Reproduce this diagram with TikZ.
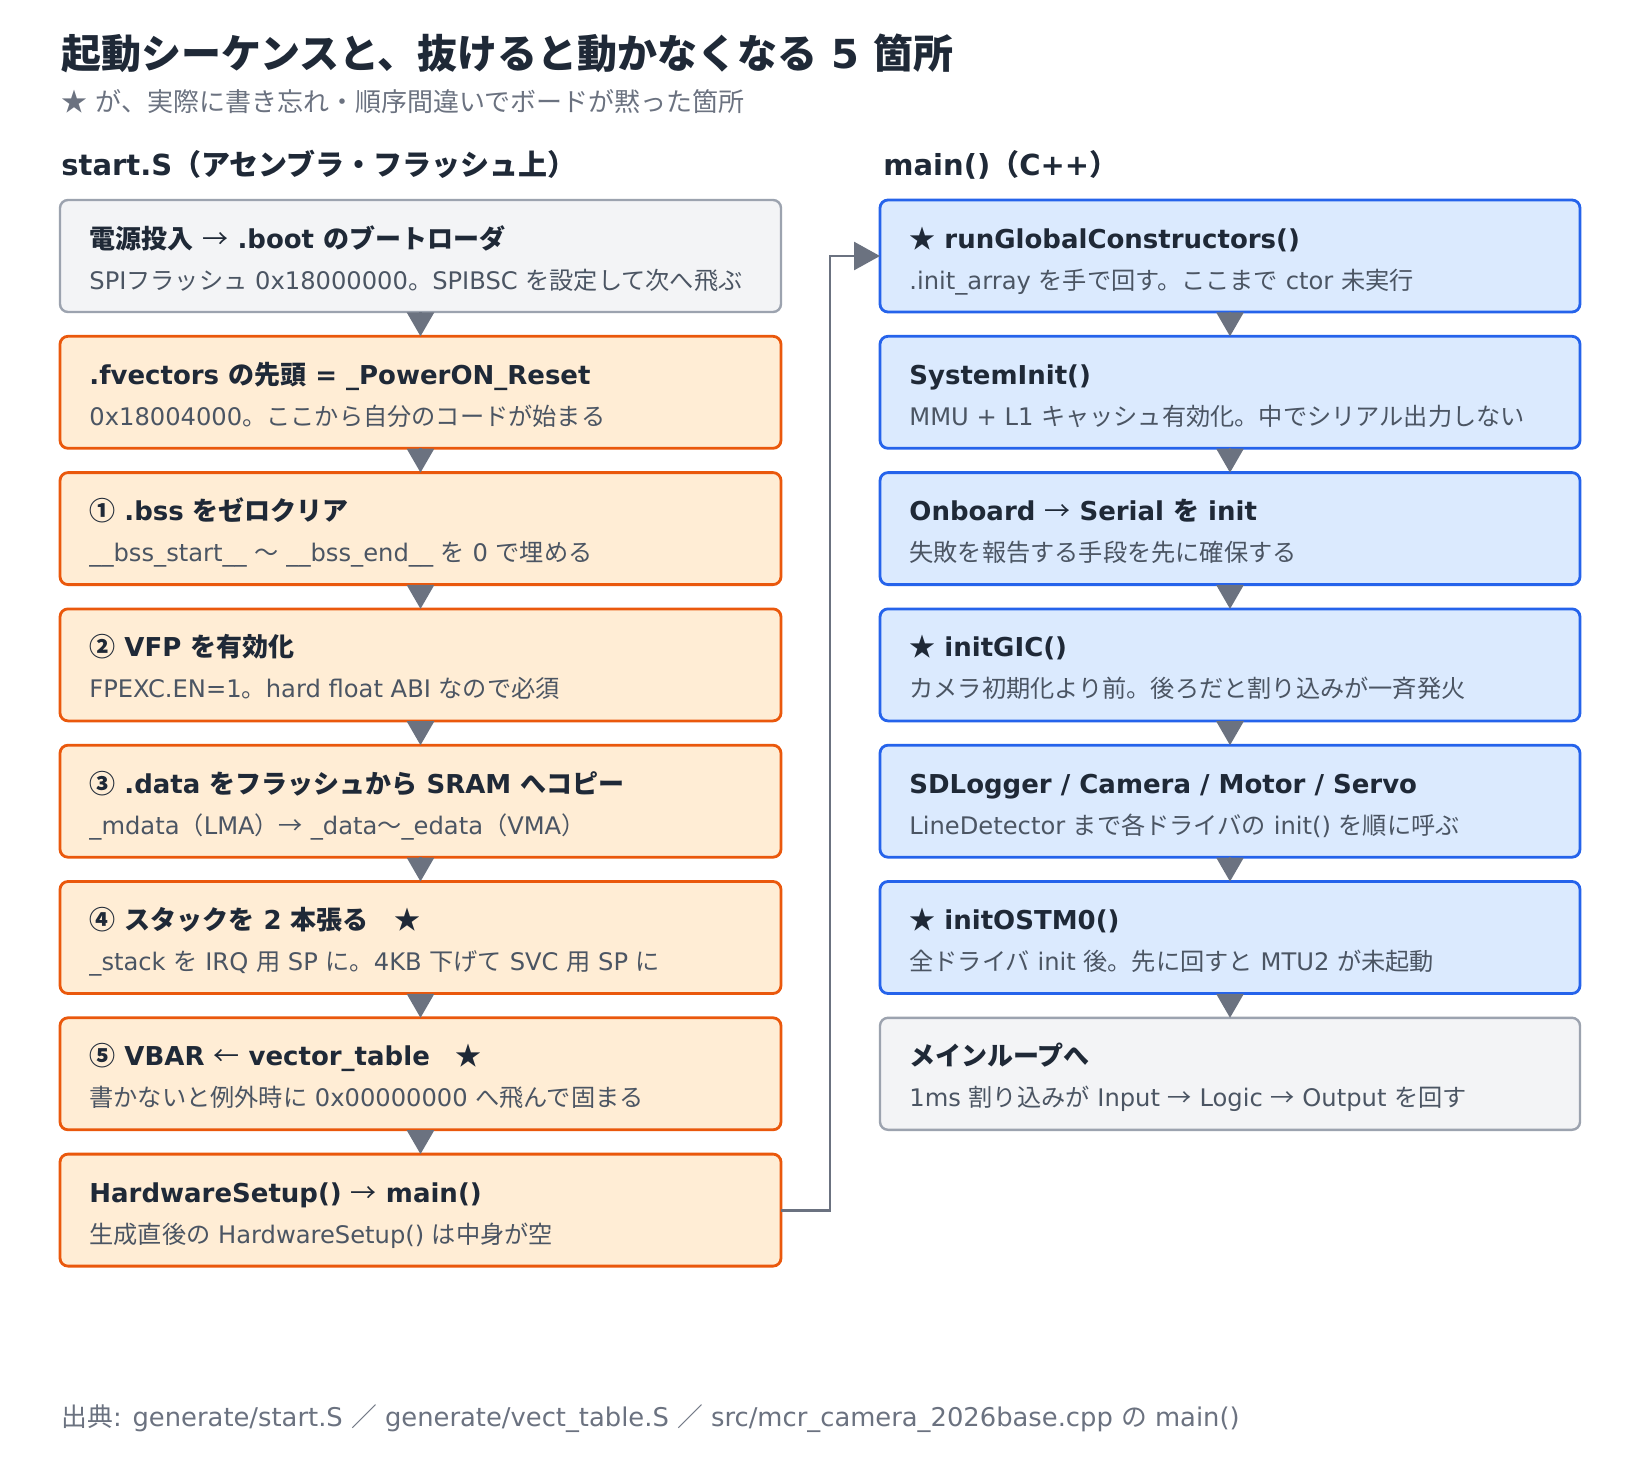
\documentclass[tikz,border=0pt]{standalone}
\usepackage{fontspec}
\setmainfont{DejaVu Sans}
\newfontfamily\cjk{Noto Sans CJK JP}
\usetikzlibrary{arrows.meta}
\XeTeXinterchartokenstate=1
\newXeTeXintercharclass\CJKclass
\makeatletter
\def\setcjkrange#1#2{\count@=#1\relax\loop\XeTeXcharclass\count@=\CJKclass\relax\ifnum\count@<#2\relax\advance\count@\@ne\repeat}
\makeatother
\setcjkrange{"2190}{"21FF}
\setcjkrange{"2460}{"24FF}
\setcjkrange{"2600}{"26FF}
\setcjkrange{"2E80}{"30FF}
\setcjkrange{"3400}{"9FFF}
\setcjkrange{"FF00}{"FFEF}
\XeTeXinterchartoks 0 \CJKclass = {\cjk}
\XeTeXinterchartoks 4095 \CJKclass = {\cjk}
\XeTeXinterchartoks \CJKclass 0 = {\rmfamily}
\XeTeXinterchartoks \CJKclass 4095 = {\rmfamily}
\newcommand{\thinarrow}[1]{{\mdseries #1}}
\definecolor{titlecol}{HTML}{1F2937}
\definecolor{mutedcol}{HTML}{6B7280}
\definecolor{subcol}{HTML}{4B5563}
\definecolor{arrowcol}{HTML}{6B7280}
\definecolor{grayfill}{HTML}{F3F4F6}
\definecolor{grayline}{HTML}{9CA3AF}
\definecolor{orangefill}{HTML}{FFEDD5}
\definecolor{orangeline}{HTML}{EA580C}
\definecolor{bluefill}{HTML}{DBEAFE}
\definecolor{blueline}{HTML}{2563EB}
\tikzset{
  box/.style={rectangle, rounded corners=4pt, minimum height=56pt, inner sep=0pt, outer sep=0pt, anchor=north west},
  leftbox/.style={box, minimum width=360.5pt},
  rightbox/.style={box, minimum width=350pt},
  graybox/.style={fill=grayfill, draw=grayline, line width=1.2pt},
  orangebox/.style={fill=orangefill, draw=orangeline, line width=1.4pt},
  bluebox/.style={fill=bluefill, draw=blueline, line width=1.4pt},
  ttl/.style={anchor=base west, inner sep=0pt, text=titlecol, font=\bfseries\fontsize{13}{15}\selectfont},
  sub/.style={anchor=base west, inner sep=0pt, text=subcol, font=\fontsize{12.1}{14}\selectfont},
  flow/.style={draw=arrowcol, line width=1.4pt, -{Triangle[width=13.5pt,length=12pt]}},
  jump/.style={draw=arrowcol, line width=1.4pt, -{Triangle[width=14pt,length=13pt]}},
  heading/.style={anchor=base west, inner sep=0pt, text=titlecol, font=\bfseries\fontsize{14.5}{17}\selectfont},
}
\newcommand{\boxtext}[3]{%
  \node[ttl] (#1t) at ([xshift=14.5pt,yshift=-24pt]#1.north west) {#2};
  \node[sub] (#1s) at ([xshift=14.5pt,yshift=-44.5pt]#1.north west) {#3};
}
\begin{document}
\begin{tikzpicture}[x=0.5pt,y=-0.5pt]
\path[use as bounding box, fill=white] (0,0) rectangle (1640,1480);
% title
\node[anchor=base west, inner sep=0pt, text=titlecol, font=\bfseries\fontsize{20}{24}\selectfont] (title) at (61,68) {起動シーケンスと、抜けると動かなくなる 5 箇所};
\node[anchor=base west, inner sep=0pt, text=mutedcol, font=\fontsize{13}{16}\selectfont] (subtitle) at (61,111) {★ が、実際に書き忘れ・順序間違いでボードが黙った箇所};
\node[heading] (hl) at (61,175) {start.S（アセンブラ・フラッシュ上）};
\node[heading] (hr) at (883,175) {main()（C++）};
% left column
\node[leftbox, graybox] (L1) at (60,200) {};
\node[leftbox, orangebox] (L2) at (60,336.3) {};
\node[leftbox, orangebox] (L3) at (60,472.6) {};
\node[leftbox, orangebox] (L4) at (60,608.9) {};
\node[leftbox, orangebox] (L5) at (60,745.2) {};
\node[leftbox, orangebox] (L6) at (60,881.5) {};
\node[leftbox, orangebox] (L7) at (60,1017.8) {};
\node[leftbox, orangebox] (L8) at (60,1154.1) {};
% right column
\node[rightbox, bluebox] (R1) at (880,200) {};
\node[rightbox, bluebox] (R2) at (880,336.3) {};
\node[rightbox, bluebox] (R3) at (880,472.6) {};
\node[rightbox, bluebox] (R4) at (880,608.9) {};
\node[rightbox, bluebox] (R5) at (880,745.2) {};
\node[rightbox, bluebox] (R6) at (880,881.5) {};
\node[rightbox, graybox] (R7) at (880,1017.8) {};
% texts
\boxtext{L1}{電源投入 \thinarrow{→} .boot のブートローダ}{SPIフラッシュ 0x18000000。SPIBSC を設定して次へ飛ぶ}
\boxtext{L2}{.fvectors の先頭 = \_PowerON\_Reset}{0x18004000。ここから自分のコードが始まる}
\boxtext{L3}{① .bss をゼロクリア}{\_\_bss\_start\_\_ 〜 \_\_bss\_end\_\_ を 0 で埋める}
\boxtext{L4}{② VFP を有効化}{FPEXC.EN=1。hard float ABI なので必須}
\boxtext{L5}{③ .data をフラッシュから SRAM へコピー}{\_mdata（LMA）→ \_data〜\_edata（VMA）}
\boxtext{L6}{④ スタックを 2 本張る　★}{\_stack を IRQ 用 SP に。4KB 下げて SVC 用 SP に}
\boxtext{L7}{⑤ VBAR \thinarrow{←} vector\_table　★}{書かないと例外時に 0x00000000 へ飛んで固まる}
\boxtext{L8}{HardwareSetup() \thinarrow{→} main()}{生成直後の HardwareSetup() は中身が空}
\boxtext{R1}{★ runGlobalConstructors()}{.init\_array を手で回す。ここまで ctor 未実行}
\boxtext{R2}{SystemInit()}{MMU + L1 キャッシュ有効化。中でシリアル出力しない}
\boxtext{R3}{Onboard \thinarrow{→} Serial を init}{失敗を報告する手段を先に確保する}
\boxtext{R4}{★ initGIC()}{カメラ初期化より前。後ろだと割り込みが一斉発火}
\boxtext{R5}{SDLogger / Camera / Motor / Servo}{LineDetector まで各ドライバの init() を順に呼ぶ}
\boxtext{R6}{★ initOSTM0()}{全ドライバ init 後。先に回すと MTU2 が未起動}
\boxtext{R7}{メインループへ}{1ms 割り込みが Input → Logic → Output を回す}
% flow arrows
\foreach \a/\b in {L1/L2,L2/L3,L3/L4,L4/L5,L5/L6,L6/L7,L7/L8,R1/R2,R2/R3,R3/R4,R4/R5,R5/R6,R6/R7}
  \draw[flow] (\a.south) -- (\b.north);
\coordinate (bend) at (830,1210.1);
\draw[jump] (L8.east) -- (bend) |- (R1.west);
% footer
\node[anchor=base west, inner sep=0pt, text=mutedcol, font=\fontsize{12.9}{15}\selectfont] (footer) at (61,1426) {出典: generate/start.S ／ generate/vect\_table.S ／ src/mcr\_camera\_2026base.cpp の main()};
\end{tikzpicture}
\end{document}
